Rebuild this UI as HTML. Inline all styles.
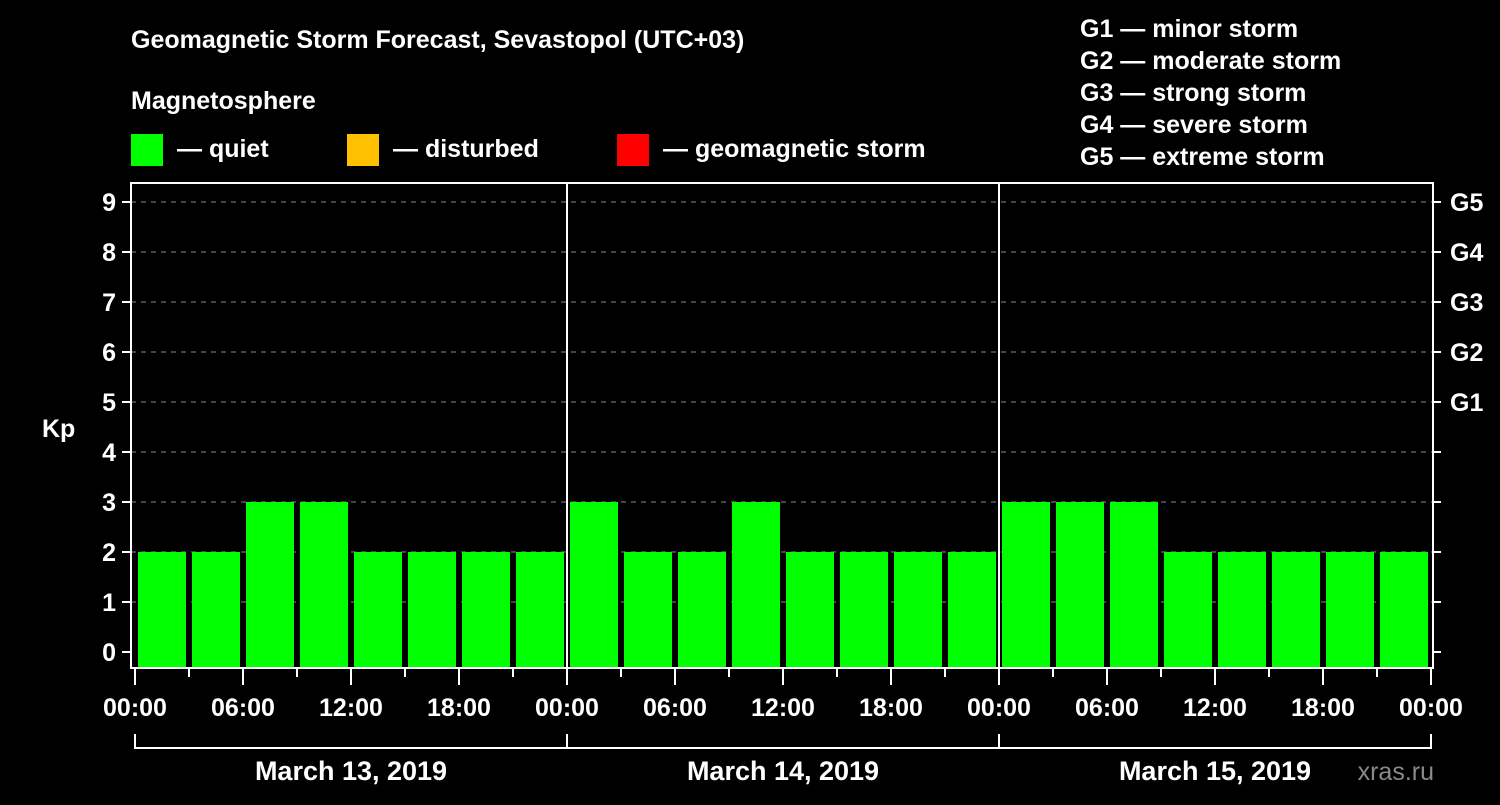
<!DOCTYPE html>
<html><head><meta charset="utf-8"><style>
body{margin:0;background:#000;width:1500px;height:800px;overflow:hidden}
text{font-family:"Liberation Sans",Arial,sans-serif;font-weight:bold;fill:#fff}
</style></head><body>
<svg id="c" width="1500" height="800">
<rect width="1500" height="800" fill="#000"/>
<text x="131" y="48" font-size="25">Geomagnetic Storm Forecast, Sevastopol (UTC+03)</text>
<text x="131" y="109" font-size="25">Magnetosphere</text>
<g><rect x="131" y="134" width="32" height="32" fill="#00ff00"/><text x="177" y="157" font-size="25">— quiet</text></g>
<g><rect x="347" y="134" width="32" height="32" fill="#ffc000"/><text x="393" y="157" font-size="25">— disturbed</text></g>
<g><rect x="617" y="134" width="32" height="32" fill="#ff0000"/><text x="663" y="157" font-size="25">— geomagnetic storm</text></g>
<g font-size="25">
<text x="1080" y="37">G1 — minor storm</text>
<text x="1080" y="69">G2 — moderate storm</text>
<text x="1080" y="101">G3 — strong storm</text>
<text x="1080" y="133">G4 — severe storm</text>
<text x="1080" y="165">G5 — extreme storm</text>
</g>
<text x="42" y="437" font-size="25">Kp</text>
<text x="1434" y="780" font-size="25" text-anchor="end" fill="#888" style="fill:#8a8a8a;font-weight:normal">xras.ru</text>
<g id="plot"></g>
</svg>
<script>
const kpValues=[2,2,3,3,2,2,2,2, 3,2,2,3,2,2,2,2, 3,3,3,2,2,2,2,2];
const yTicks=[0,1,2,3,4,5,6,7,8,9];
const gLabels=["G1","G2","G3","G4","G5"];
const xTickLabels=["00:00","06:00","12:00","18:00"];
const dayLabels=["March 13, 2019","March 14, 2019","March 15, 2019"];
const NS="http://www.w3.org/2000/svg";
const g=document.getElementById('plot');
const L=131,R=1433,T=183,B=668,X0=135,DAY=432;
const y=v=>652-50*v;
const x=h=>X0+h*DAY/24;
function el(t,a,p){const e=document.createElementNS(NS,t);for(const k in a)e.setAttribute(k,a[k]);(p||g).appendChild(e);return e;}
function color(v){return v>=5?'#ff0000':(v>=4?'#ffc000':'#00ff00');}
yTicks.forEach(v=>{
 if(v>0){const gl=el('line',{x1:L,x2:R,y1:y(v),y2:y(v),stroke:'#888','stroke-dasharray':'5,5','stroke-width':1});
 }
 el('line',{x1:L-9,x2:L,y1:y(v),y2:y(v),stroke:'#fff','stroke-width':2});
 el('line',{x1:R,x2:R+8,y1:y(v),y2:y(v),stroke:'#fff','stroke-width':2});
 const t=el('text',{x:L-15,y:y(v)+9,'font-size':25,'text-anchor':'end'});t.textContent=v;
 
});
gLabels.forEach((s,i)=>{const t=el('text',{x:1450,y:y(5+i)+9,'font-size':25});t.textContent=s;
 });
kpValues.forEach((v,i)=>{
 const r=el('rect',{x:x(i*3)+3,y:y(v),width:48,height:667-y(v),fill:color(v)});
 
});
el('rect',{x:L,y:T,width:R-L,height:B-T,fill:'none',stroke:'#fff','stroke-width':2});
[1,2].forEach(d=>el('line',{x1:x(d*24),x2:x(d*24),y1:T,y2:B,stroke:'#fff','stroke-width':2}));
for(let h=0;h<=72;h+=3){const maj=h%6==0;el('line',{x1:x(h),x2:x(h),y1:B,y2:maj?685:677,stroke:'#fff','stroke-width':2});}
for(let d=0;d<3;d++){
 xTickLabels.forEach((s,i)=>{const t=el('text',{x:x(d*24+i*6),y:716,'font-size':25,'text-anchor':'middle'});t.textContent=s;
  });
 const dl=el('text',{x:x(d*24+12),y:780,'font-size':27,'text-anchor':'middle'});dl.textContent=dayLabels[d];
 
}
const lt=el('text',{x:x(72),y:716,'font-size':25,'text-anchor':'middle'});lt.textContent=xTickLabels[0];
el('path',{d:`M${x(0)} 734V748H${x(72)}V734`,stroke:'#fff','stroke-width':2,fill:'none'});
[1,2].forEach(d=>el('line',{x1:x(d*24),x2:x(d*24),y1:734,y2:748,stroke:'#fff','stroke-width':2}));
</script>
</body></html>
